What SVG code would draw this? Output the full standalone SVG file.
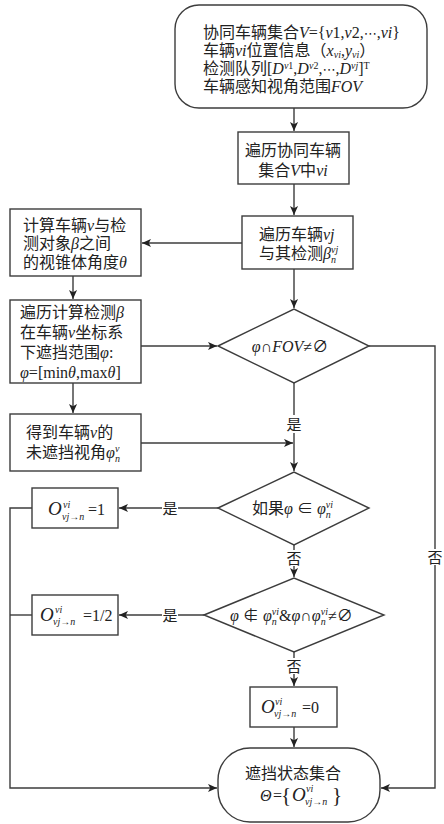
<svg xmlns="http://www.w3.org/2000/svg" width="444" height="824" viewBox="0 0 444 824">
<style>
.b{fill:#fff;stroke:#3c3c3c;stroke-width:1.4}
.c{fill:none;stroke:#3c3c3c;stroke-width:1.4}
text{font-family:"Liberation Serif","Noto Sans CJK SC",serif;font-size:16px;fill:#222}
.i{font-style:italic}
.s{font-size:10px}
.l{font-size:15px}
.o{font-size:19px;font-style:italic}
.d{font-family:"DejaVu Serif","DejaVu Sans",serif;font-size:13px}
</style>
<defs>
<marker id="a" viewBox="0 0 10 10" refX="10" refY="5" markerWidth="9" markerHeight="9" markerUnits="userSpaceOnUse" orient="auto">
<path d="M0,0.5 L10,5 L0,9.5 L2.5,5 Z" fill="#222"/>
</marker>
</defs>
<rect width="444" height="824" fill="#fff"/>
<g id="connectors">
<path class="c" d="M294,108 V131" marker-end="url(#a)"/>
<path class="c" d="M294,184 V215" marker-end="url(#a)"/>
<path class="c" d="M242,243 H142" marker-end="url(#a)"/>
<path class="c" d="M73,276 V299" marker-end="url(#a)"/>
<path class="c" d="M294,269 V308" marker-end="url(#a)"/>
<path class="c" d="M141,346 H217" marker-end="url(#a)"/>
<path class="c" d="M73,383 V413" marker-end="url(#a)"/>
<path class="c" d="M294,383 V471" marker-end="url(#a)"/>
<path class="c" d="M141,443 H293" marker-end="url(#a)"/>
<path class="c" d="M218,508 H119" marker-end="url(#a)"/>
<path class="c" d="M294,545 V577" marker-end="url(#a)"/>
<path class="c" d="M204,615 H119" marker-end="url(#a)"/>
<path class="c" d="M294,652 V686" marker-end="url(#a)"/>
<path class="c" d="M294,727 V747" marker-end="url(#a)"/>
<path class="c" d="M32,508 H10 V788 H217" marker-end="url(#a)"/>
<path class="c" d="M32,615 H10"/>
<path class="c" d="M369,346 H435 V788 H381" marker-end="url(#a)"/>
<rect x="286" y="415" width="16" height="18" fill="#fff"/>
<text x="294" y="430" text-anchor="middle" class="l">是</text>
<rect x="162" y="500" width="16" height="16" fill="#fff"/>
<text x="170" y="514" text-anchor="middle" class="l">是</text>
<rect x="162" y="607" width="16" height="16" fill="#fff"/>
<text x="170" y="621" text-anchor="middle" class="l">是</text>
<rect x="287" y="550" width="14" height="16" fill="#fff"/>
<text x="294" y="564" text-anchor="middle" class="l">否</text>
<rect x="287" y="658" width="14" height="16" fill="#fff"/>
<text x="294" y="672" text-anchor="middle" class="l">否</text>
<rect x="428" y="549" width="14" height="16" fill="#fff"/>
<text x="435" y="563" text-anchor="middle" class="l">否</text>
</g>
<g id="start">
<rect class="b" x="175" y="5" width="252" height="103" rx="24"/>
<text x="203" y="38">协同车辆集合<tspan class="i">V</tspan>={<tspan class="i">v</tspan>1,<tspan class="i">v</tspan>2,<tspan class="d">⋯</tspan>,<tspan class="i">vi</tspan>}</text>
<text x="203" y="56">车辆<tspan class="i">vi</tspan>位置信息（<tspan class="i">x</tspan><tspan class="s i" dy="2">vi</tspan><tspan dy="-2">,</tspan><tspan class="i">y</tspan><tspan class="s i" dy="2">vi</tspan><tspan dy="-2">）</tspan></text>
<text x="203" y="74">检测队列[<tspan class="i">D</tspan><tspan class="s i" dy="-5">v</tspan><tspan class="s">1</tspan><tspan dy="5">,</tspan><tspan class="i">D</tspan><tspan class="s i" dy="-5">v</tspan><tspan class="s">2</tspan><tspan dy="5">,</tspan><tspan class="d">⋯</tspan>,<tspan class="i">D</tspan><tspan class="s i" dy="-5">vj</tspan><tspan dy="5">]</tspan><tspan class="s" dy="-5">T</tspan></text>
<text x="203" y="92">车辆感知视角范围<tspan class="i">FOV</tspan></text>
</g>
<g id="loopV">
<rect class="b" x="238" y="132" width="111" height="52"/>
<text x="293" y="156" text-anchor="middle">遍历协同车辆</text>
<text x="293" y="176" text-anchor="middle">集合<tspan class="i">V</tspan>中<tspan class="i">vi</tspan></text>
</g>
<g id="loopVj">
<rect class="b" x="242" y="216" width="111" height="53"/>
<text x="259" y="240">遍历车辆<tspan class="i">vj</tspan></text>
<text x="259" y="259">与其检测<tspan class="i">β</tspan><tspan class="s i" dy="4">n</tspan><tspan class="s i" dx="-5" dy="-10">vj</tspan></text>
</g>
<g id="calcTheta">
<rect class="b" x="10" y="209" width="131" height="67"/>
<text x="23" y="231">计算车辆<tspan class="i">v</tspan>与检</text>
<text x="23" y="249">测对象<tspan class="i">β</tspan>之间</text>
<text x="23" y="268">的视锥体角度<tspan class="i">θ</tspan></text>
</g>
<g id="calcPhi">
<rect class="b" x="10" y="300" width="131" height="83"/>
<text x="20" y="318">遍历计算检测<tspan class="i">β</tspan></text>
<text x="20" y="338">在车辆<tspan class="i">v</tspan>坐标系</text>
<text x="20" y="358">下遮挡范围<tspan class="i">φ</tspan>:</text>
<text x="20" y="378"><tspan class="i">φ</tspan>=[min<tspan class="i">θ</tspan>,max<tspan class="i">θ</tspan>]</text>
</g>
<g id="unoccluded">
<rect class="b" x="10" y="414" width="131" height="57"/>
<text x="26" y="438">得到车辆<tspan class="i">v</tspan>的</text>
<text x="26" y="458">未遮挡视角<tspan class="i">φ</tspan><tspan class="s i" dy="4">n</tspan><tspan class="s i" dx="-5" dy="-10">v</tspan></text>
</g>
<g id="dec1">
<polygon class="b" points="218,346 294,309 369,346 294,383"/>
<text x="290" y="352" text-anchor="middle"><tspan class="i">φ</tspan>∩<tspan class="i">FOV</tspan>≠∅</text>
</g>
<g id="dec2">
<polygon class="b" points="218,508 294,472 369,508 294,545"/>
<text x="252" y="514">如果<tspan class="i">φ</tspan> ∈ <tspan class="i">φ</tspan><tspan class="s i" dy="4">n</tspan><tspan class="s i" dx="-5" dy="-10">vi</tspan></text>
</g>
<g id="dec3">
<polygon class="b" points="204,615 294,578 384,615 294,652"/>
<text x="230" y="621"><tspan class="i">φ</tspan> ∉ <tspan class="i">φ</tspan><tspan class="s i" dy="4">n</tspan><tspan class="s i" dx="-5" dy="-10">vi</tspan><tspan dy="6">&amp;</tspan><tspan class="i">φ</tspan>∩<tspan class="i">φ</tspan><tspan class="s i" dy="4">n</tspan><tspan class="s i" dx="-5" dy="-10">vi</tspan><tspan dy="6">≠∅</tspan></text>
</g>
<g id="occ1">
<rect class="b" x="32" y="488" width="86" height="40"/>
<text x="48" y="515" class="o">O</text>
<text x="63" y="508" class="s i">vi</text>
<text x="62" y="520" class="s"><tspan class="i">vj</tspan>→<tspan class="i">n</tspan></text>
<text x="88" y="515">=1</text>
</g>
<g id="occHalf">
<rect class="b" x="32" y="595" width="86" height="40"/>
<text x="40" y="621" class="o">O</text>
<text x="55" y="613" class="s i">vi</text>
<text x="53" y="625" class="s"><tspan class="i">vj</tspan>→<tspan class="i">n</tspan></text>
<text x="83" y="621">=1/2</text>
</g>
<g id="occ0">
<rect class="b" x="250" y="687" width="87" height="40"/>
<text x="261" y="713" class="o">O</text>
<text x="275" y="705" class="s i">vi</text>
<text x="274" y="717" class="s"><tspan class="i">vj</tspan>→<tspan class="i">n</tspan></text>
<text x="302" y="713">=0</text>
</g>
<g id="end">
<rect class="b" x="218" y="748" width="162" height="74" rx="32"/>
<text x="293" y="779" text-anchor="middle">遮挡状态集合</text>
<text x="260" y="801" class="i">Θ</text>
<text x="273" y="801">=</text>
<text x="281" y="802" style="font-size:21px">{</text>
<text x="292" y="801" class="o">O</text>
<text x="306" y="792" class="s i">vi</text>
<text x="305" y="805" class="s"><tspan class="i">vj</tspan>→<tspan class="i">n</tspan></text>
<text x="332" y="802" style="font-size:21px">}</text>
</g>
</svg>
